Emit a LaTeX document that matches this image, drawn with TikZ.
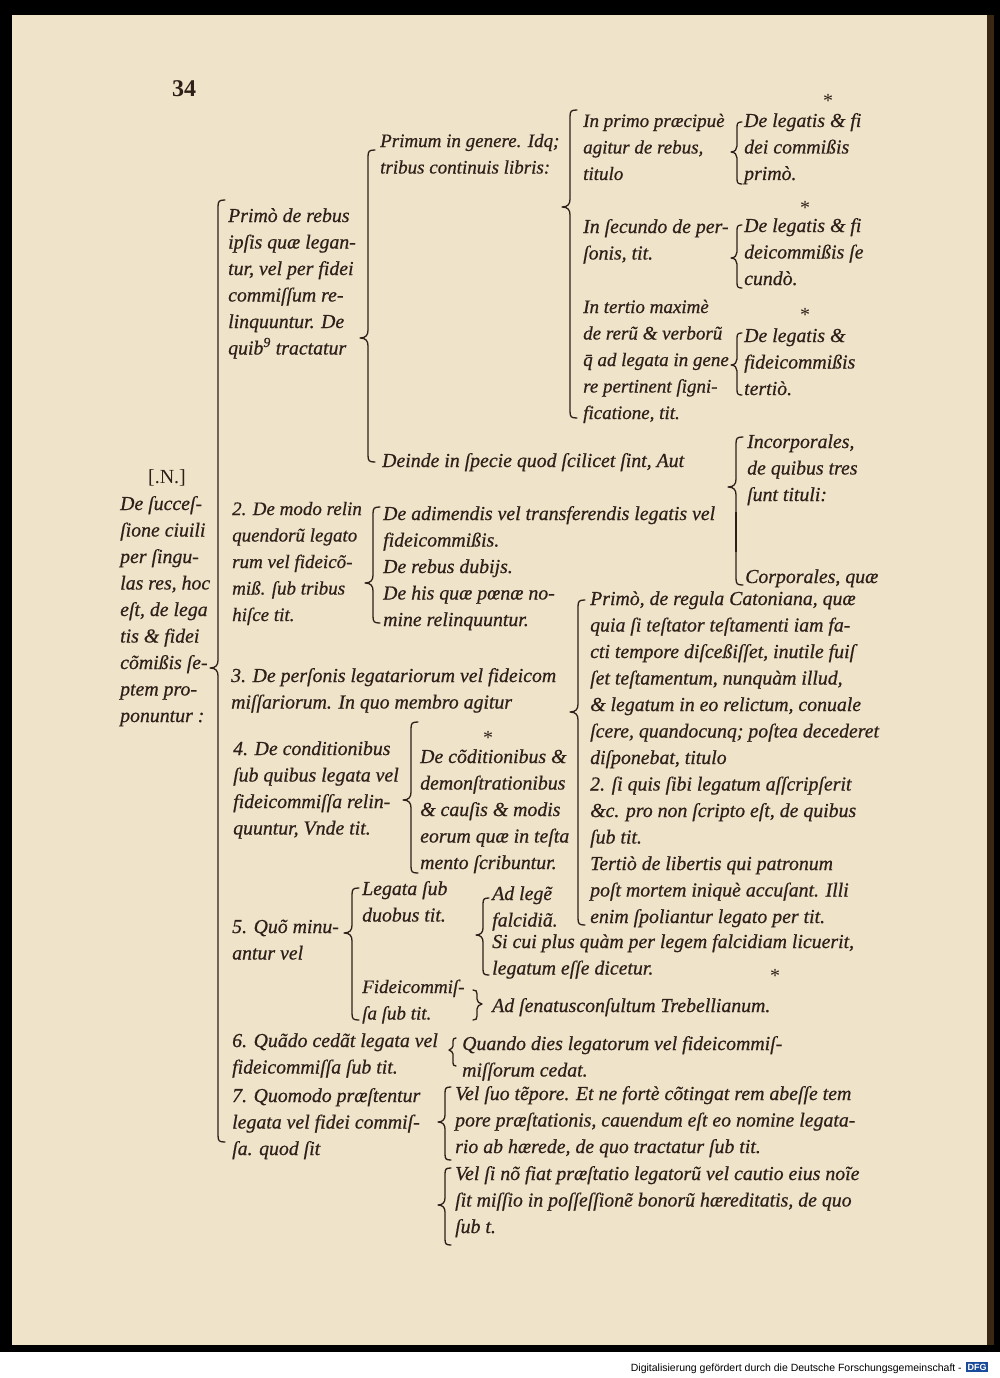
\documentclass[tikz,border=0pt]{standalone}
\usepackage{fontspec}
\setmainfont[ItalicFeatures={FakeBold=0.6}]{Liberation Serif}
\newfontfamily\footfont{Liberation Sans}
\definecolor{ink}{HTML}{2E2018}
\definecolor{paper}{HTML}{EFE3CA}
\definecolor{dfgblue}{HTML}{1A4A9A}
\tikzset{
  txt/.style={anchor=base west, inner sep=0pt, text=ink, font=\fontsize{19.8}{26.5}\selectfont\itshape},
  txts/.style={txt, font=\fontsize{19}{26.5}\selectfont\itshape},
  brc/.style={draw=ink, line width=1.3pt, line cap=round, line join=round},
  star/.style={anchor=base, inner sep=0pt, text=ink, font=\fontsize{20}{20}\selectfont},
}
\newcommand{\blk}[1]{\begin{tabular}[t]{@{}l@{}}#1\end{tabular}}
% left-pointing brace: [curl]{x}{top}{cusp}{bottom}
\newcommand{\brc}[5][8]{\draw[brc] (#2+#1-1,#3) .. controls (#2+1,#3) and (#2,#3+1) .. (#2,#3+#1-1) -- (#2,#4-#1) .. controls (#2,#4-3) and (#2-2,#4) .. (#2-#1,#4) .. controls (#2-2,#4) and (#2,#4+3) .. (#2,#4+#1) -- (#2,#5-#1+1) .. controls (#2,#5-1) and (#2+1,#5) .. (#2+#1-1,#5);}
% right-pointing brace
\newcommand{\brcR}[5][8]{\draw[brc] (#2-#1+1,#3) .. controls (#2-1,#3) and (#2,#3+1) .. (#2,#3+#1-1) -- (#2,#4-#1) .. controls (#2,#4-3) and (#2+2,#4) .. (#2+#1,#4) .. controls (#2+2,#4) and (#2,#4+3) .. (#2,#4+#1) -- (#2,#5-#1+1) .. controls (#2,#5-1) and (#2-1,#5) .. (#2-#1+1,#5);}
\begin{document}
\begin{tikzpicture}[x=1pt,y=-1pt]
\useasboundingbox (0,0) rectangle (1000,1378);
\fill[black] (0,0) rectangle (1000,1352);
\fill[white] (0,1352) rectangle (1000,1378);
\fill[paper] (12,15) rectangle (987,1345);
\fill[black!70!brown] (987,15) rectangle (994,1345);

% page number and stars
\node[anchor=base west, inner sep=0pt, text=ink, font=\fontsize{24}{24}\selectfont\bfseries] (pg) at (172,97) {34};
\node[star] (s1) at (828,108) {*};
\node[star] (s2) at (805,214) {*};
\node[star] (s3) at (805,321) {*};
\node[star] (s4) at (488,744) {*};
\node[star] (s5) at (775,982) {*};

% upper part
\node[txts] (A) at (380,147) {\blk{Primum in genere. Idq;\\tribus continuis libris:}};
\node[txt] (B) at (228,222) {\blk{Primò de rebus\\ipſis quæ legan-\\tur, vel per fidei\\commiſſum re-\\linquuntur. De\\quib\textsuperscript{9} tractatur}};
\node[txts] (C1) at (583,127) {\blk{In primo præcipuè\\agitur de rebus,\\titulo}};
\node[txt] (C2) at (583,233) {\blk{In ſecundo de per-\\ſonis, tit.}};
\node[txts] (C3) at (583,313) {\blk{In tertio maximè\\de rerũ \& verborũ\\q̄ ad legata in gene\\re pertinent ſigni-\\ficatione, tit.}};
\node[txt] (D1) at (744,127) {\blk{De legatis \& fi\\dei commißis\\primò.}};
\node[txt] (D2) at (744,232) {\blk{De legatis \& fi\\deicommißis ſe\\cundò.}};
\node[txt] (D3) at (744,342) {\blk{De legatis \&\\fideicommißis\\tertiò.}};
\node[txt] (E) at (382,467) {Deinde in ſpecie quod ſcilicet ſint, Aut};
\node[txt] (F1) at (747,448) {\blk{Incorporales,\\de quibus tres\\ſunt tituli:}};
\node[txt] (F2) at (745,583) {Corporales, quæ};

\brc{368}{150}{338}{462}
\brc{570}{110}{207}{418}
\brc[6]{737}{122}{152}{184}
\brc[6]{737}{225}{258}{288}
\brc[6]{737}{333}{365}{395}
\brc{736}{437}{487}{585}
\draw[ink, line width=2.4pt] (736,512) -- (736,552);

% left column
\node[anchor=base, inner sep=0pt, text=ink, font=\fontsize{20}{20}\selectfont] (N) at (167,483) {[.N.]};
\node[txt] (G) at (120,510) {\blk{De ſucceſ-\\ſione ciuili\\per ſingu-\\las res, hoc\\eſt, de lega\\tis \& fidei\\cõmißis ſe-\\ptem pro-\\ponuntur :}};
\brc{218}{200}{668}{1142}

% item 2
\node[txts] (H) at (232,515) {\blk{2. De modo relin\\quendorũ legato\\rum vel fideicõ-\\miß. ſub tribus\\hiſce tit.}};
\node[txt] (H1) at (383,520) {\blk{De adimendis vel transferendis legatis vel\\fideicommißis.\\De rebus dubijs.\\De his quæ pœnæ no-\\mine relinquuntur.}};
\brc{373}{507}{583}{623}

% item 3
\node[txt] (I) at (231,682) {\blk{3. De perſonis legatariorum vel fideicom\\miſſariorum. In quo membro agitur}};
\node[txt] (I1) at (590,605) {\blk{Primò, de regula Catoniana, quæ\\quia ſi teſtator teſtamenti iam fa-\\cti tempore diſceßiſſet, inutile fuiſ\\ſet teſtamentum, nunquàm illud,\\\& legatum in eo relictum, conuale\\ſcere, quandocunq; poſtea decederet\\diſponebat, titulo\\2. ſi quis ſibi legatum aſſcripſerit\\\&c. pro non ſcripto eſt, de quibus\\ſub tit.\\Tertiò de libertis qui patronum\\poſt mortem iniquè accuſant. Illi\\enim ſpoliantur legato per tit.}};
\brc{578}{600}{712}{925}

% item 4
\node[txt] (J) at (233,755) {\blk{4. De conditionibus\\ſub quibus legata vel\\fideicommiſſa relin-\\quuntur, Vnde tit.}};
\node[txt] (J1) at (420,763) {\blk{De cõditionibus \&\\demonſtrationibus\\\& cauſis \& modis\\eorum quæ in teſta\\mento ſcribuntur.}};
\brc{411}{722}{800}{873}

% item 5
\node[txt] (K) at (232,933) {\blk{5. Quõ minu-\\antur vel}};
\node[txt] (K1) at (362,895) {\blk{Legata ſub\\duobus tit.}};
\node[txts] (K2) at (362,993) {\blk{Fideicommiſ-\\ſa ſub tit.}};
\brc{352}{888}{933}{1020}
\node[txt] (K1a) at (492,900) {\blk{Ad legẽ\\falcidiã.}};
\node[txt] (K1b) at (492,948) {\blk{Si cui plus quàm per legem falcidiam licuerit,\\legatum eſſe dicetur.}};
\brc[7]{483}{898}{935}{975}
\node[txt] (K2a) at (492,1012) {Ad ſenatusconſultum Trebellianum.};
\brcR[5]{477}{990}{1004}{1020}

% item 6
\node[txt] (L) at (232,1047) {\blk{6. Quãdo cedãt legata vel\\fideicommiſſa ſub tit.}};
\node[txt] (L1) at (462,1050) {\blk{Quando dies legatorum vel fideicommiſ-\\miſſorum cedat.}};
\brc[4]{453}{1038}{1050}{1066}

% item 7
\node[txt] (M) at (232,1102) {\blk{7. Quomodo præſtentur\\legata vel fidei commiſ-\\ſa. quod ſit}};
\node[txt] (M1) at (455,1100) {\blk{Vel ſuo tẽpore. Et ne fortè cõtingat rem abeſſe tem\\pore præſtationis, cauendum eſt eo nomine legata-\\rio ab hærede, de quo tractatur ſub tit.}};
\node[txt] (M2) at (455,1180) {\blk{Vel ſi nõ fiat præſtatio legatorũ vel cautio eius noĩe\\ſit miſſio in poſſeſſionẽ bonorũ hæreditatis, de quo\\ſub t.}};
\brc[7]{445}{1087}{1122}{1160}
\brc[7]{445}{1168}{1205}{1245}

% footer
\node[anchor=base east, inner sep=0pt, text=black, font=\footfont\fontsize{10.5}{12}\selectfont] (foot) at (962,1371) {Digitalisierung gefördert durch die Deutsche Forschungsgemeinschaft -};
\node[anchor=west, fill=dfgblue, text=white, inner sep=1.5pt, font=\footfont\bfseries\fontsize{9}{10}\selectfont] (dfg) at (966,1367) {DFG};
\end{tikzpicture}
\end{document}
